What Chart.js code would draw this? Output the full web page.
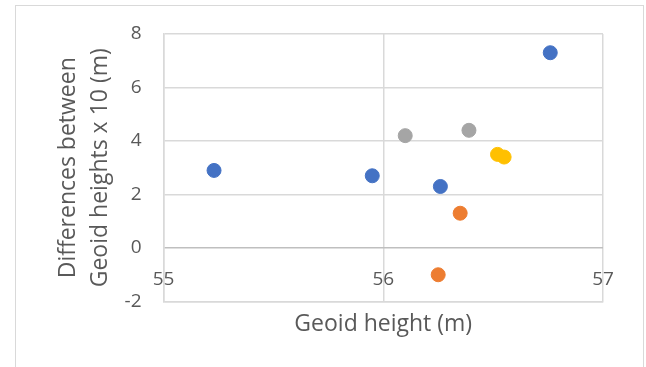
<!DOCTYPE html>
<html>
<head>
<meta charset="utf-8">
<script src="https://cdn.jsdelivr.net/npm/chart.js@4.4.1/dist/chart.umd.min.js"></script>
<style>
  html, body { margin: 0; padding: 0; background: #fff; overflow: hidden; }
  .box { position: absolute; left: 15px; top: 5px; border: 1px solid #d9d9d9; }
  canvas { display: block; }
</style>
</head>
<body>
<div class="box"><canvas id="myChart" width="627" height="378"></canvas></div>
<script>
// values
var blueX = [55.23, 55.95, 56.26, 56.76];
var blueY = [2.9, 2.7, 2.3, 7.3];
var orangeX = [56.35, 56.25];
var orangeY = [1.3, -1.0];
var grayX = [56.10, 56.39];
var grayY = [4.2, 4.4];
var yellowX = [56.52, 56.55];
var yellowY = [3.5, 3.4];

var xTicks = [55, 56, 57];
var yTicks = [-2, 0, 2, 4, 6, 8];
var xTitle = 'Geoid height (m)';
var yTitle = ['Differences between', 'Geoid heights x 10 (m)'];

function pts(xs, ys){
  var out = [];
  for (let i = 0; i < xs.length; i++) out.push({x: xs[i], y: ys[i]});
  return out;
}
function series(xs, ys, color){
  return {
    data: pts(xs, ys),
    backgroundColor: color,
    borderColor: color,
    borderWidth: 1,
    pointRadius: 7,
    pointHoverRadius: 7
  };
}

Chart.defaults.font.family = "'Open Sans', sans-serif";
Chart.defaults.color = '#595959';

var grid = '#d9d9d9';
const ctx = document.getElementById('myChart').getContext('2d');
const myChart = new Chart(ctx, {
  type: 'scatter',
  data: {
    datasets: [
      series(blueX, blueY, '#4472c4'),
      series(orangeX, orangeY, '#ed7d31'),
      series(grayX, grayY, '#a5a5a5'),
      series(yellowX, yellowY, '#ffc000')
    ]
  },
  options: {
    responsive: false,
    animation: false,
    layout: { padding: { top: 28, right: 40, left: 0, bottom: 0 } },
    plugins: { legend: { display: false }, tooltip: { enabled: false } },
    scales: {
      x: {
        type: 'linear',
        position: 'bottom',
        min: xTicks[0],
        max: xTicks[xTicks.length - 1],
        afterBuildTicks: function(s){ s.ticks = xTicks.map(v => ({value: v})); },
        grid: { color: grid, lineWidth: 1.5, drawTicks: false },
        border: { color: grid, width: 1.5 },
        ticks: { display: false },
        title: {
          display: true,
          text: xTitle,
          font: { size: 23 },
          padding: { top: 0, bottom: 46 }
        },
        afterFit: function(s){ s.height = 82.5; }
      },
      xl: {
        type: 'linear',
        position: { y: 0 },
        min: xTicks[0],
        max: xTicks[xTicks.length - 1],
        afterBuildTicks: function(s){ s.ticks = xTicks.map(v => ({value: v})); },
        grid: { display: false, drawTicks: false },
        border: { display: false },
        ticks: { font: { size: 19 }, padding: 20, maxRotation: 0 },
        afterFit: function(s){ s.height = 0; }
      },
      y: {
        type: 'linear',
        position: 'left',
        min: yTicks[0],
        max: yTicks[yTicks.length - 1],
        afterBuildTicks: function(s){ s.ticks = yTicks.map(v => ({value: v})); },
        grid: {
          color: c => c.tick && c.tick.value === 0 ? '#bfbfbf' : grid,
          lineWidth: 1.5,
          drawTicks: false
        },
        border: { color: grid, width: 1.5 },
        ticks: { font: { size: 19 }, padding: 22 },
        title: {
          display: true,
          text: yTitle,
          font: { size: 23, lineHeight: 1.4 },
          padding: { top: 36, bottom: 0 }
        },
        afterFit: function(s){
          s.width = 147.5;
          // tick padding must not push the plot area down
          s.paddingTop = 12;
          s.paddingBottom = 12;
        }
      }
    }
  }
});
</script>
</body>
</html>
